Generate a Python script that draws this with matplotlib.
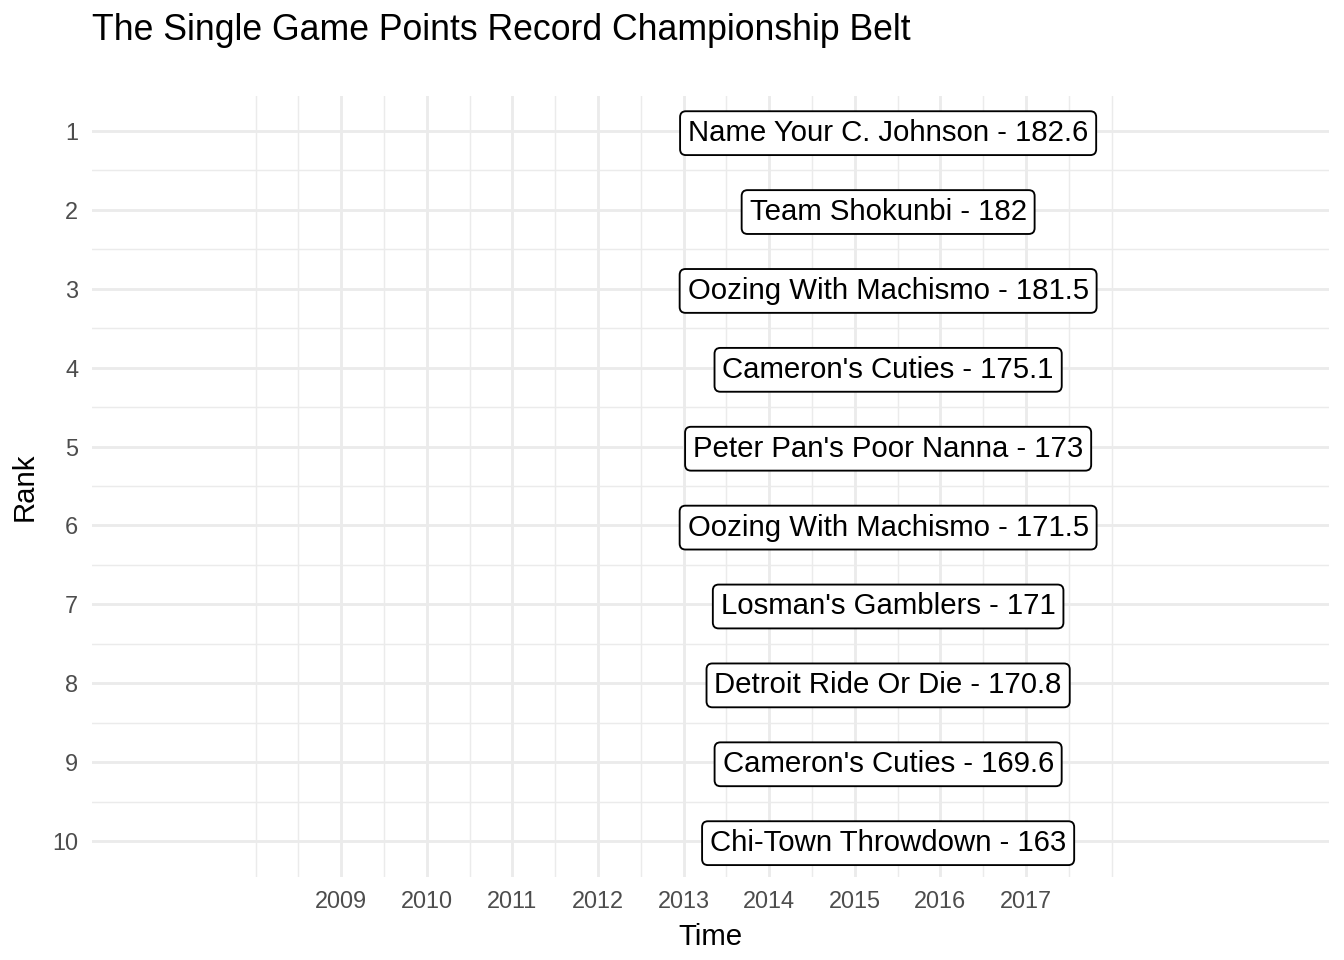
"""Single game points record championship belt: top-10 scores as labels."""

import matplotlib.pyplot as plt
import matplotlib.transforms as mtransforms
import numpy as np

plt.rcParams["font.family"] = ["Liberation Sans", "DejaVu Sans"]

TITLE = "The Single Game Points Record Championship Belt"
RANKS = [1, 2, 3, 4, 5, 6, 7, 8, 9, 10]
TEAMS = [
    "Name Your C. Johnson",
    "Team Shokunbi",
    "Oozing With Machismo",
    "Cameron's Cuties",
    "Peter Pan's Poor Nanna",
    "Oozing With Machismo",
    "Losman's Gamblers",
    "Detroit Ride Or Die",
    "Cameron's Cuties",
    "Chi-Town Throwdown",
]
POINTS = ["182.6", "182", "181.5", "175.1", "173", "171.5", "171", "170.8", "169.6", "163"]
TIME = [2015.39] * 10
YEARS = list(range(2009, 2018))

GRID = "#EBEBEB"


def main() -> None:
    fig = plt.figure(figsize=(7, 5), dpi=192)
    ax = fig.add_axes([92 / 1344, 1 - 877 / 960, (1329 - 92) / 1344, (877 - 96) / 960])

    ax.set_xlim(2006.09, 2020.54)
    ax.set_ylim(10.456, 0.556)

    ax.set_xticks(YEARS)
    ax.set_xticklabels([str(y) for y in YEARS])
    minor_x = [v for v in np.arange(2008, 2018.01, 0.5) if v not in YEARS]
    ax.set_xticks(minor_x, minor=True)
    ax.set_yticks(RANKS)
    ax.set_yticklabels([str(r) for r in RANKS])
    ax.set_yticks([r + 0.5 for r in RANKS[:-1]], minor=True)

    ax.grid(which="major", color=GRID, linewidth=1.07)
    ax.grid(which="minor", color=GRID, linewidth=0.53)
    ax.set_axisbelow(True)
    for s in ax.spines.values():
        s.set_visible(False)
    ax.tick_params(which="both", length=0)
    ax.tick_params(axis="x", labelsize=8.8, labelcolor="#4D4D4D", pad=4.8)
    ax.tick_params(axis="y", labelsize=8.8, labelcolor="#4D4D4D", pad=5.2)

    # nudge labels down a touch so the box sits centred on the rank line
    shift = mtransforms.offset_copy(ax.transData, fig=fig, x=0, y=-0.8, units="points")
    for t, r, team, pts in zip(TIME, RANKS, TEAMS, POINTS):
        ax.text(
            t, r, f"{team} - {pts}",
            ha="center", va="center", fontsize=11, color="black",
            transform=shift,
            bbox=dict(boxstyle="round,pad=0.27,rounding_size=0.2",
                      facecolor="white", edgecolor="black", linewidth=0.7),
        )

    ax.set_xlabel("Time", fontsize=11, labelpad=4)
    ax.set_ylabel("Rank", fontsize=11, labelpad=5)
    fig.text(92 / 1344, 1 - 31 / 960, TITLE, ha="left", va="center", fontsize=13.35)

    fig.savefig("out.png", dpi=192)
    plt.close(fig)


if __name__ == "__main__":
    main()
